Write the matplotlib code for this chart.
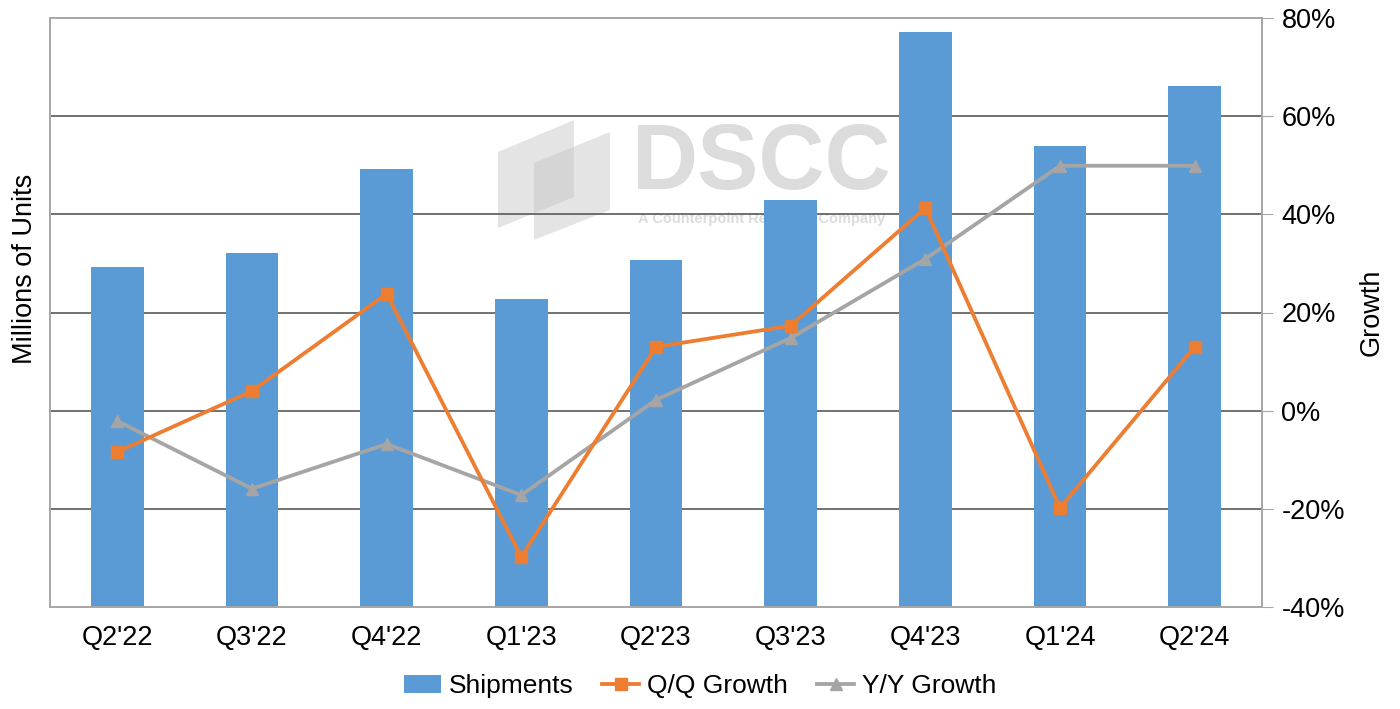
import matplotlib
matplotlib.use("Agg")
import matplotlib.pyplot as plt
from matplotlib.patches import Polygon
import numpy as np

categories = ["Q2'22", "Q3'22", "Q4'22", "Q1'23", "Q2'23", "Q3'23", "Q4'23", "Q1'24", "Q2'24"]
shipments = [6.92, 7.21, 8.92, 6.27, 7.07, 8.29, 11.71, 9.39, 10.61]
qq_growth = [-8.4, 4.0, 23.8, -29.8, 13.0, 17.3, 41.3, -19.8, 13.0]
yy_growth = [-2.1, -15.9, -6.8, -17.2, 2.2, 14.8, 30.9, 49.9, 49.9]
growth_ticks = [-40, -20, 0, 20, 40, 60, 80]

plt.rcParams['font.family'] = ['Liberation Sans', 'DejaVu Sans']
FS = 19.5

fig = plt.figure(figsize=(14, 7.09), dpi=100)
ax = fig.add_axes([50/1400, 1-607/709, (1262-50)/1400, (607-18)/709])
ax2 = ax.twinx()

x = np.arange(len(categories))
ax.set_xlim(-0.5, len(categories)-0.5)
ax.set_ylim(0, 12)
ax.set_yticks([])

# watermark (behind bars)
ax.text(0.587, 0.75, "DSCC", transform=ax.transAxes, fontsize=66, color='#dcdcdc',
        ha='center', va='center', fontweight='bold', zorder=0)
ax.text(0.587, 0.659, "A Counterpoint Research Company", transform=ax.transAxes, fontsize=10.5,
        color='#dcdcdc', ha='center', va='center', fontweight='bold', zorder=0)
p1 = Polygon([[0.3696, 0.7725], [0.4323, 0.8268], [0.4323, 0.6961], [0.3696, 0.6435]], closed=True,
             transform=ax.transAxes, facecolor='#c4c4c4', edgecolor='none', alpha=0.45, zorder=0)
p2 = Polygon([[0.3993, 0.7538], [0.4620, 0.8065], [0.4620, 0.6740], [0.3993, 0.6231]], closed=True,
             transform=ax.transAxes, facecolor='#c4c4c4', edgecolor='none', alpha=0.45, zorder=0)
ax.add_patch(p1)
ax.add_patch(p2)

bars = ax.bar(x, shipments, width=0.39, color='#5b9bd5', zorder=2, label='Shipments')

# gridlines at growth ticks, behind bars
for t in growth_ticks[1:-1]:
    yv = (t + 40) / 120 * 12
    ax.axhline(yv, color='#595959', lw=1.2, zorder=1)

ax2.set_ylim(-40, 80)
ax2.set_yticks(growth_ticks)
ax2.set_yticklabels([f"{t}%" for t in growth_ticks])

l1, = ax2.plot(x, qq_growth, color='#ed7d31', lw=2.75, marker='s', markersize=8.5, label='Q/Q Growth', zorder=4)
l2, = ax2.plot(x, yy_growth, color='#a5a5a5', lw=2.75, marker='^', markersize=9, label='Y/Y Growth', zorder=3)

for a in (ax, ax2):
    for s in a.spines.values():
        s.set_color('#a6a6a6')
        s.set_linewidth(1.2)
ax.set_xticks(x)
ax.set_xticklabels(categories, fontsize=FS)
ax.tick_params(axis='x', length=0, pad=13)
ax2.tick_params(axis='y', labelsize=FS, length=8, color='#a6a6a6', pad=6)

ax.set_ylabel("Millions of Units", fontsize=FS)
ax.yaxis.set_label_coords(-0.0095, 0.574)
ax2.set_ylabel("Growth", fontsize=FS, labelpad=10)

fig.legend(handles=[bars, l1, l2], labels=['Shipments', 'Q/Q Growth', 'Y/Y Growth'],
           loc='center', bbox_to_anchor=(0.5, 1-686/709), ncol=3, frameon=False,
           fontsize=19, handlelength=1.4, columnspacing=1.1, handletextpad=0.3)

fig.savefig("out.png", dpi=100)
